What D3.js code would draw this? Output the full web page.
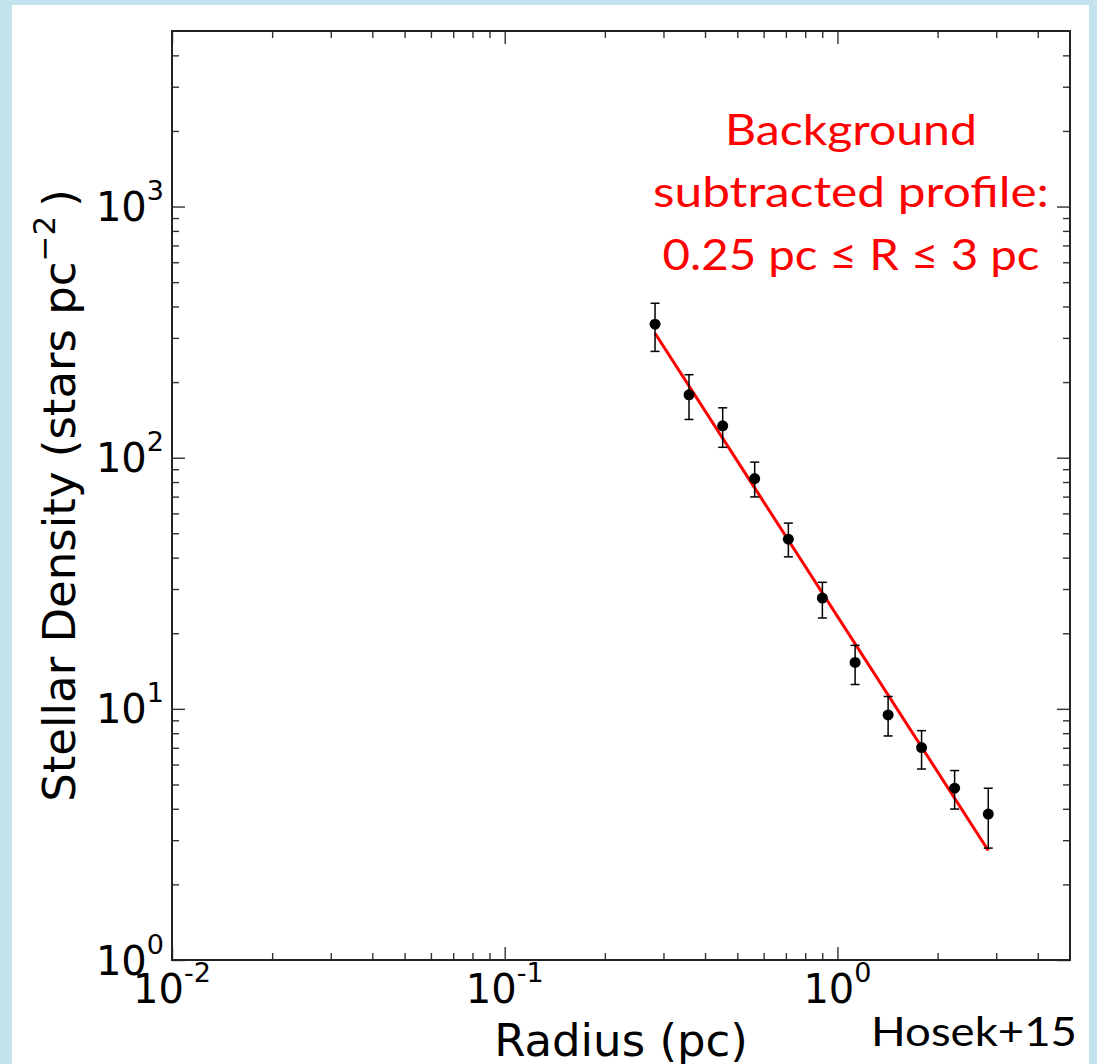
<!DOCTYPE html>
<html>
<head>
<meta charset="utf-8">
<script src="https://cdn.jsdelivr.net/npm/d3@7"></script>
<style>
  html, body { margin: 0; padding: 0; background: #c3e3ec; }
  svg { display: block; }
  .mpl { font-family: "DejaVu Sans", sans-serif; fill: #000; }
  .cal { font-family: Lato, "Open Sans", sans-serif; }
</style>
</head>
<body>
<script>
// ---- Data ----
const radius  = [0.283, 0.358, 0.452, 0.564, 0.712, 0.901, 1.13, 1.42, 1.79, 2.25, 2.84];
const density = [340, 178, 134, 82.6, 47.4, 27.6, 15.3, 9.46, 7.01, 4.83, 3.81];
const upper   = [412, 214, 158, 96.0, 54.9, 31.9, 17.9, 11.2, 8.19, 5.68, 4.83];
const lower   = [265, 142, 110, 69.8, 40.3, 23.0, 12.5, 7.80, 5.76, 3.99, 2.79];
const fitRadius  = [0.283, 2.84];
const fitDensity = [313, 2.73];

const xDomain = [0.01, 5];
const yDomain = [1, 5000];
const xMajor = [0.01, 0.1, 1];
const xMajorExp = ["-2", "-1", "0"];
const yMajor = [1, 10, 100, 1000];
const yMajorExp = ["0", "1", "2", "3"];
const xMinor = [0.02,0.03,0.04,0.05,0.06,0.07,0.08,0.09,0.2,0.3,0.4,0.5,0.6,0.7,0.8,0.9,2,3,4];
const yMinor = [2,3,4,5,6,7,8,9,20,30,40,50,60,70,80,90,200,300,400,500,600,700,800,900,2000,3000,4000];

const xLabel = "Radius (pc)";
const yLabelMain = "Stellar Density (stars pc";
const yLabelSup = "\u22122";
const noteLines = ["Background", "subtracted profile:", "0.25 pc \u2264 R \u2264 3 pc"];
const credit = "Hosek+15";

// ---- Layout ----
const W = 1097, H = 1064;
const L = 172, R = 1070, T = 31, B = 960;

const svg = d3.select("body").append("svg").attr("width", W).attr("height", H);
svg.append("rect").attr("x", 12).attr("y", 5).attr("width", 1077).attr("height", H).attr("fill", "#fff");

const x = d3.scaleLog().domain(xDomain).range([L, R]);
const y = d3.scaleLog().domain(yDomain).range([B, T]);

const tickColor = "#333";
function styleAxis(g) {
  g.select(".domain").remove();
  g.selectAll(".tick line").attr("stroke", tickColor).attr("stroke-width", 1.4);
  g.selectAll(".tick text").remove();
}
const MAJ = 13, MIN = 7;
// major/minor ticks, inward, all four sides
[[d3.axisBottom, B, xMajor, MAJ, x, true], [d3.axisBottom, B, xMinor, MIN, x, true],
 [d3.axisTop, T, xMajor, MAJ, x, true], [d3.axisTop, T, xMinor, MIN, x, true],
 [d3.axisLeft, L, yMajor, MAJ, y, false], [d3.axisLeft, L, yMinor, MIN, y, false],
 [d3.axisRight, R, yMajor, MAJ, y, false], [d3.axisRight, R, yMinor, MIN, y, false]
].forEach(([fn, pos, vals, len, sc, horiz]) => {
  const ax = fn(sc).tickValues(vals).tickSize(-len).tickFormat("");
  svg.append("g")
    .attr("transform", horiz ? `translate(0,${pos})` : `translate(${pos},0)`)
    .call(ax).call(styleAxis);
});

// frame
svg.append("rect").attr("x", L).attr("y", T).attr("width", R - L).attr("height", B - T)
  .attr("fill", "none").attr("stroke", "#222").attr("stroke-width", 2);

// tick labels
const TF = 40, SF = 27;
xMajor.forEach((v, i) => {
  const t = svg.append("text").attr("class", "mpl").attr("x", x(v)).attr("y", 1003)
    .attr("text-anchor", "middle").attr("font-size", TF);
  t.append("tspan").text("10");
  t.append("tspan").attr("font-size", SF).attr("dy", -21).text(xMajorExp[i]);
});
yMajor.forEach((v, i) => {
  const t = svg.append("text").attr("class", "mpl").attr("x", 164).attr("y", y(v) + 14.5)
    .attr("text-anchor", "end").attr("font-size", TF);
  t.append("tspan").text("10");
  t.append("tspan").attr("font-size", SF).attr("dy", -21).text(yMajorExp[i]);
});

// axis labels
svg.append("text").attr("class", "mpl").attr("x", (L + R) / 2).attr("y", 1056)
  .attr("text-anchor", "middle").attr("font-size", 45).text(xLabel);
const yl = svg.append("text").attr("class", "mpl")
  .attr("transform", `translate(75,${(T + B) / 2}) rotate(-90)`)
  .attr("text-anchor", "middle").attr("font-size", 45);
yl.append("tspan").text(yLabelMain);
yl.append("tspan").attr("font-size", 31).attr("dy", -20).text(yLabelSup);
yl.append("tspan").attr("dy", 20).text("\u2009)");

// fit line
svg.append("path")
  .datum(fitRadius.map((r, i) => [r, fitDensity[i]]))
  .attr("d", d3.line().x(d => x(d[0])).y(d => y(d[1])))
  .attr("stroke", "#ff0000").attr("stroke-width", 3).attr("fill", "none");

// error bars
const pts = radius.map((r, i) => ({ r, d: density[i], hi: upper[i], lo: lower[i] }));
const eb = svg.append("g").attr("stroke", "#000").attr("stroke-width", 1.5);
eb.selectAll("line.v").data(pts).join("line").attr("class", "v")
  .attr("x1", d => x(d.r)).attr("x2", d => x(d.r)).attr("y1", d => y(d.hi)).attr("y2", d => y(d.lo));
eb.selectAll("line.ct").data(pts).join("line").attr("class", "ct")
  .attr("x1", d => x(d.r) - 4.5).attr("x2", d => x(d.r) + 4.5).attr("y1", d => y(d.hi)).attr("y2", d => y(d.hi));
eb.selectAll("line.cb").data(pts).join("line").attr("class", "cb")
  .attr("x1", d => x(d.r) - 4.5).attr("x2", d => x(d.r) + 4.5).attr("y1", d => y(d.lo)).attr("y2", d => y(d.lo));

// markers
svg.append("g").selectAll("circle").data(pts).join("circle")
  .attr("cx", d => x(d.r)).attr("cy", d => y(d.d)).attr("r", 5.5).attr("fill", "#000");

// annotation
const noteY = [145, 207, 270];
const noteW = [252, 396, 377];
noteLines.forEach((s, i) => {
  svg.append("text").attr("class", "cal").attr("x", 851).attr("y", noteY[i])
    .attr("text-anchor", "middle").attr("font-size", 43).attr("fill", "#ff0000")
    .attr("textLength", noteW[i]).attr("lengthAdjust", "spacingAndGlyphs").text(s);
});

svg.append("text").attr("class", "cal").attr("x", 1077).attr("y", 1046)
  .attr("text-anchor", "end").attr("font-size", 41).attr("fill", "#000")
  .attr("textLength", 206).attr("lengthAdjust", "spacingAndGlyphs").text(credit);
</script>
</body>
</html>
